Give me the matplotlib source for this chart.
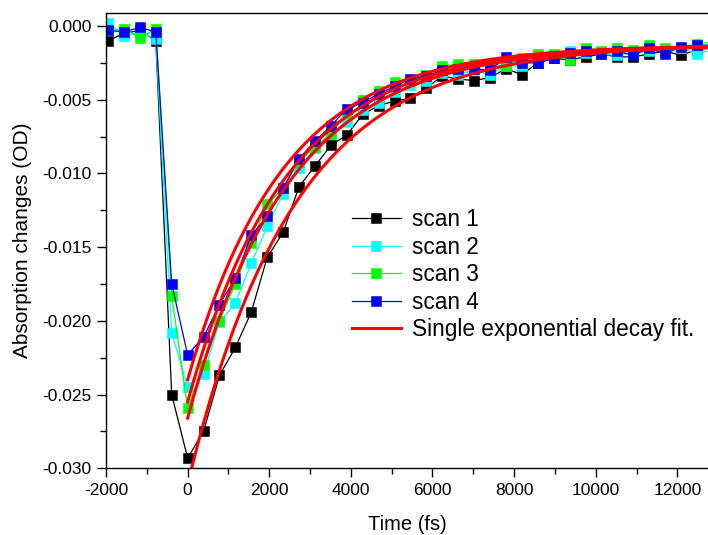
import matplotlib
matplotlib.use("Agg")
import matplotlib.pyplot as plt
import numpy as np
from matplotlib.ticker import MultipleLocator, FormatStrFormatter

plt.rcParams["font.family"] = ["Liberation Sans", "DejaVu Sans"]
plt.rcParams["axes.unicode_minus"] = False

# delay times (fs)
time_fs = [-1950, -1560, -1170, -780, -390, 0, 390, 780, 1170, 1560,
           1950, 2340, 2730, 3120, 3510, 3900, 4290, 4680, 5070, 5460,
           5850, 6240, 6630, 7020, 7410, 7800, 8190, 8580, 8970, 9360,
           9750, 10140, 10530, 10920, 11310, 11700, 12090, 12480, 12870]

# absorption changes (OD) for each scan
scan1 = [-0.0010, -0.0005, -0.0003, -0.0010, -0.0250, -0.0293, -0.0275, -0.0237,
         -0.0218, -0.0194, -0.0157, -0.0140, -0.0109, -0.0095, -0.0081, -0.0074,
         -0.0060, -0.0054, -0.0051, -0.0049, -0.0042, -0.0034, -0.0036, -0.0037,
         -0.0035, -0.0029, -0.0033, -0.0025, -0.0022, -0.0023, -0.0021, -0.0019,
         -0.0021, -0.0021, -0.0019, -0.0017, -0.0020, -0.0016, -0.0015]
scan2 = [0.0002, -0.0007, -0.0004, -0.0009, -0.0208, -0.0245, -0.0236, -0.0201,
         -0.0188, -0.0161, -0.0136, -0.0114, -0.0096, -0.0083, -0.0073, -0.0065,
         -0.0057, -0.0052, -0.0045, -0.0040, -0.0037, -0.0032, -0.0033, -0.0030,
         -0.0033, -0.0027, -0.0027, -0.0023, -0.0021, -0.0017, -0.0018, -0.0019,
         -0.0020, -0.0018, -0.0017, -0.0016, -0.0015, -0.0019, -0.0016]
scan3 = [-0.0003, -0.0002, -0.0008, -0.0002, -0.0183, -0.0259, -0.0230, -0.0200,
         -0.0175, -0.0147, -0.0121, -0.0110, -0.0092, -0.0082, -0.0073, -0.0059,
         -0.0050, -0.0044, -0.0038, -0.0037, -0.0033, -0.0027, -0.0026, -0.0026,
         -0.0026, -0.0027, -0.0022, -0.0019, -0.0019, -0.0023, -0.0015, -0.0017,
         -0.0015, -0.0016, -0.0013, -0.0015, -0.0015, -0.0012, -0.0011]
scan4 = [-0.0003, -0.0004, -0.0001, -0.0004, -0.0175, -0.0223, -0.0211, -0.0189,
         -0.0171, -0.0142, -0.0129, -0.0110, -0.0090, -0.0078, -0.0068, -0.0056,
         -0.0052, -0.0046, -0.0041, -0.0036, -0.0034, -0.0030, -0.0029, -0.0029,
         -0.0030, -0.0021, -0.0025, -0.0025, -0.0022, -0.0018, -0.0017, -0.0019,
         -0.0017, -0.0020, -0.0015, -0.0019, -0.0014, -0.0013, -0.0013]

scan_labels = ["scan 1", "scan 2", "scan 3", "scan 4"]
scan_colors = ["#000000", "#00FFFF", "#00FF00", "#0000FF"]

# single exponential fits: y = y0 + A * exp(-t / tau), t >= 0
fit_y0 = [-0.0012, -0.0013, -0.0013, -0.0013]
fit_amp = [-0.0299, -0.0242, -0.0253, -0.0227]
fit_tau = [2600, 2420, 2480, 2350]

fig = plt.figure(figsize=(7.08, 5.35), dpi=100)
ax = fig.add_axes([106 / 708, 66.7 / 535, 602 / 708, 455.6 / 535])

for ys, lab, col in zip([scan1, scan2, scan3, scan4], scan_labels, scan_colors):
    ax.plot(time_fs, ys, color=col, lw=0.9, marker="s", ms=6.8,
            mfc=col, mec=col, mew=0.4, label=lab)

t_fit = np.linspace(0, 13000, 400)
for i, (y0, a, tau) in enumerate(zip(fit_y0, fit_amp, fit_tau)):
    ax.plot(t_fit, y0 + a * np.exp(-t_fit / tau), color="#FF0000", lw=2.2,
            label="Single exponential decay fit." if i == 0 else None)

ax.set_xlim(-2000, 12751)
ax.set_ylim(-0.030, 0.0009)
ax.xaxis.set_major_locator(MultipleLocator(2000))
ax.xaxis.set_minor_locator(MultipleLocator(1000))
ax.yaxis.set_major_locator(MultipleLocator(0.005))
ax.yaxis.set_minor_locator(MultipleLocator(0.0025))
ax.yaxis.set_major_formatter(FormatStrFormatter("%.3f"))

ax.spines["right"].set_visible(False)
for s in ("left", "bottom", "top"):
    ax.spines[s].set_linewidth(1.0)
ax.tick_params(which="major", direction="out", length=6.5, width=1.0,
               labelsize=12.5, pad=4, top=False, right=False)
ax.tick_params(which="minor", direction="out", length=4, width=1.0,
               top=False, right=False)

ax.set_xlabel("Time (fs)", fontsize=14.5, labelpad=12)
ax.set_ylabel("Absorption changes (OD)", fontsize=15, labelpad=7)

ax.legend(loc="upper left", bbox_to_anchor=(352 / 708, 1 - 208 / 535),
          bbox_transform=fig.transFigure, frameon=False, fontsize=16.3,
          handlelength=2.15, handletextpad=0.5, labelspacing=0.2,
          borderpad=0, borderaxespad=0, numpoints=1)

fig.savefig("out.png", dpi=100)
